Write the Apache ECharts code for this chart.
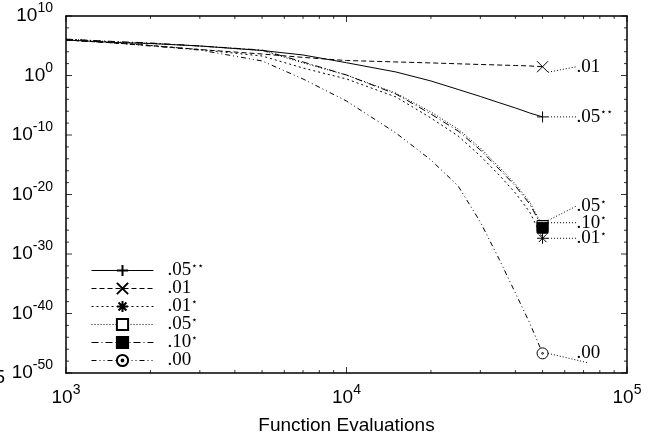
<!DOCTYPE html>
<html>
<head>
<meta charset="utf-8">
<title>Function Evaluations</title>
<script src="https://cdn.jsdelivr.net/npm/echarts@6/dist/echarts.min.js"></script>
<style>html, body { margin: 0; padding: 0; background: #fff; }</style>
</head>
<body>
<div id="main" style="width:654px;height:444px;"></div>
<script>
// function evaluations (x) and error values (y)
var evals = [1000, 1500, 2000, 3000, 5000, 7000, 10000, 15000, 20000, 25000, 30000, 35000, 40000, 45000, 50000];
var err05ss = [9.3e5, 3.5e5, 2.4e5, 9.1e4, 1.6e4, 2.8e3, 1.4e2, 3.9, 1.2e-1, 4.5e-3, 3.0e-4, 2.7e-5, 3.5e-6, 5.0e-7, 1.1e-7];
var err01 = [9.3e5, 2.9e5, 1.1e5, 2.3e4, 4.1e3, 1.1e3, 3.3e2, 1.9e2, 1.3e2, 93, 71, 58, 48, 40, 30];
var err01s = [9.3e5, 2.9e5, 1.1e5, 2.3e4, 1.9e3, 18, 2.6e-1, 2.5e-4, 7.2e-8, 6.8e-11, 3.0e-14, 1.9e-17, 1.8e-20, 1.1e-23, 4.4e-28];
var err05s = [1.3e6, 4.3e5, 2.4e5, 9.1e4, 1.6e4, 1.3e2, 1.2, 1.1e-3, 7.4e-7, 1.0e-9, 6.6e-13, 4.2e-16, 5.8e-19, 5.5e-22, 5.1e-26];
var err10s = [1.3e6, 5.1e5, 2.9e5, 9.1e4, 1.9e4, 1.9e2, 1.2, 7.8e-4, 3.4e-7, 4.7e-10, 3.0e-13, 1.9e-16, 2.7e-19, 2.5e-22, 2.6e-26];
var err00 = [9.3e5, 2.9e5, 9.1e4, 1.9e4, 2.8e2, 2.6e-1, 5.1e-5, 2.2e-10, 6.3e-15, 2.7e-19, 2.4e-25, 1.4e-31, 2.8e-37, 2.5e-42, 2.0e-47];

var names = ['.05⋆⋆', '.01', '.01⋆', '.05⋆', '.10⋆', '.00'];
var xTickExps = [3, 4, 5];
var yTickExps = [-50, -40, -30, -20, -10, 0, 10];

var X_MIN = 1000, X_MAX = 100000, Y_MIN = 1e-50, Y_MAX = 1e10;
var xMajor = xTickExps.map(function (e) { return Math.pow(10, e); });
var yMajor = yTickExps.map(function (e) { return Math.pow(10, e); });
var xMinor = [];
for (var d = 3; d < 5; d++) {
    for (var m = 2; m <= 9; m++) xMinor.push(m * Math.pow(10, d));
}
var yMinor = [];
for (var e = -48; e < 10; e += 2) {
    if (e % 10 !== 0) yMinor.push(Math.pow(10, e));
}

var SANS = 'Liberation Sans';
var SERIF = 'Liberation Serif';

function powLabel(v) {
    return '{b|10}{s|' + Math.round(Math.log10(v)) + '}';
}
function starLabel(name) {
    var i = name.indexOf('⋆');
    if (i < 0) return '{n|' + name + '}';
    return '{n|' + name.slice(0, i) + '}{s|' + name.slice(i) + '}';
}
var powRich = {
    b: { fontSize: 19, fontFamily: SANS, color: '#000' },
    s: { fontSize: 14, fontFamily: SANS, color: '#000', padding: [0, 0, 15, 0] }
};
var starRich = {
    n: { fontSize: 19, fontFamily: SERIF, color: '#000', lineHeight: 14 },
    s: { fontSize: 10, fontFamily: 'DejaVu Sans', color: '#000', lineHeight: 10, padding: [0, 0, 8, 0] }
};

function makeAxis(pos, min, max, label) {
    return {
        type: 'log', logBase: 10, position: pos, min: min, max: max,
        axisLine: { show: true, onZero: false, lineStyle: { color: '#000', width: 1.5 } },
        axisTick: { show: false },
        axisLabel: label || { show: false },
        splitLine: { show: false }
    };
}

var xAxes = [
    makeAxis('bottom', X_MIN, X_MAX, {
        show: true, customValues: xMajor, margin: 10, showMinLabel: true, showMaxLabel: true,
        formatter: powLabel, rich: powRich
    }),
    makeAxis('top', X_MIN, X_MAX)
];
xAxes[0].name = 'Function Evaluations';
xAxes[0].nameLocation = 'middle';
xAxes[0].nameGap = 43;
xAxes[0].nameTextStyle = { fontFamily: SANS, fontSize: 19, color: '#000' };

var yAxes = [
    makeAxis('left', Y_MIN, Y_MAX, {
        show: true, customValues: yMajor, margin: 13, showMinLabel: true, showMaxLabel: true,
        formatter: powLabel, rich: powRich
    }),
    makeAxis('right', Y_MIN, Y_MAX)
];

var PLUS = 'path://M5,0L5,10M0,5L10,5';
var CROSS = 'path://M0,0L10,10M0,10L10,0';
var ASTER = 'path://M5,0L5,10M0,5L10,5M1.5,1.5L8.5,8.5M1.5,8.5L8.5,1.5';
var CIRC = 'path://M0,5A5,5,0,1,1,10,5A5,5,0,1,1,0,5ZM4.2,5A0.8,0.8,0,1,1,5.8,5A0.8,0.8,0,1,1,4.2,5Z';

var lineSpecs = [
    { vals: err05ss, symbol: PLUS, dash: 'solid', fill: '#fff', dy: 0 },
    { vals: err01, symbol: CROSS, dash: [5, 3], fill: '#fff', dy: 0 },
    { vals: err01s, symbol: ASTER, dash: [2, 3], fill: '#fff', dy: 0 },
    { vals: err05s, symbol: 'rect', dash: [1, 2], fill: '#fff', dy: -20 },
    { vals: err10s, symbol: 'rect', dash: [7, 3, 1, 3], fill: '#000', dy: -5 },
    { vals: err00, symbol: CIRC, dash: [5, 3, 1, 3, 1, 3], fill: '#fff', dy: 0 }
];

var series = lineSpecs.map(function (spec, si) {
    var last = spec.vals.length - 1;
    return {
        name: names[si],
        type: 'line',
        symbol: spec.symbol,
        symbolSize: 11,
        showAllSymbol: true,
        lineStyle: { color: '#000', width: 1, type: spec.dash },
        itemStyle: { color: spec.fill, borderColor: '#000', borderWidth: 1 },
        label: {
            show: false, position: 'right', distance: 28,
            formatter: function (p) { return starLabel(p.seriesName); },
            rich: starRich
        },
        labelLine: { show: true, lineStyle: { color: '#000', width: 1, type: [1, 2] } },
        labelLayout: { dy: spec.dy },
        emphasis: { disabled: true },
        data: spec.vals.map(function (v, i) {
            if (i === last) return { value: [evals[i], v], label: { show: true } };
            return { value: [evals[i], v], symbol: 'none' };
        })
    };
});

// inward ticks drawn as thin rect symbols sitting on the frame, placed by the log axes
function tickSeries(points) {
    return {
        type: 'scatter', symbol: 'rect', clip: false, silent: true, z: 6,
        itemStyle: { color: '#000' },
        emphasis: { disabled: true },
        data: points
    };
}
function xTickPts(vals, len, yEdge, dir) {
    return vals.map(function (v) {
        return { value: [v, yEdge], symbolSize: [1, len], symbolOffset: [0, dir * len / 2] };
    });
}
function yTickPts(vals, len, xEdge, dir) {
    return vals.map(function (v) {
        return { value: [xEdge, v], symbolSize: [len, 1], symbolOffset: [dir * len / 2, 0] };
    });
}
series.push(tickSeries(
    xTickPts(xMajor, 6, Y_MIN, -1).concat(xTickPts(xMinor, 3, Y_MIN, -1),
        xTickPts(xMajor, 6, Y_MAX, 1), xTickPts(xMinor, 3, Y_MAX, 1))
));
series.push(tickSeries(
    yTickPts(yMajor, 6, X_MIN, 1).concat(yTickPts(yMinor, 3, X_MIN, 1),
        yTickPts(yMajor, 6, X_MAX, -1), yTickPts(yMinor, 3, X_MAX, -1))
));

var chart = echarts.init(document.getElementById('main'));
chart.setOption({
    animation: false,
    grid: { left: 66, right: 27, top: 16, bottom: 71 },
    xAxis: xAxes,
    yAxis: yAxes,
    legend: {
        orient: 'vertical', left: 91, top: 261, padding: 0,
        itemWidth: 62, itemHeight: 14, itemGap: -1,
        data: names,
        formatter: starLabel,
        lineStyle: { width: 1 },
        textStyle: { padding: [0, 0, 0, 9], rich: starRich }
    },
    graphic: [{
        type: 'text', x: -5.5, y: 368, silent: true,
        style: { text: '5', font: '19px "Liberation Sans"', fill: '#000' }
    }],
    series: series
});
</script>
</body>
</html>
